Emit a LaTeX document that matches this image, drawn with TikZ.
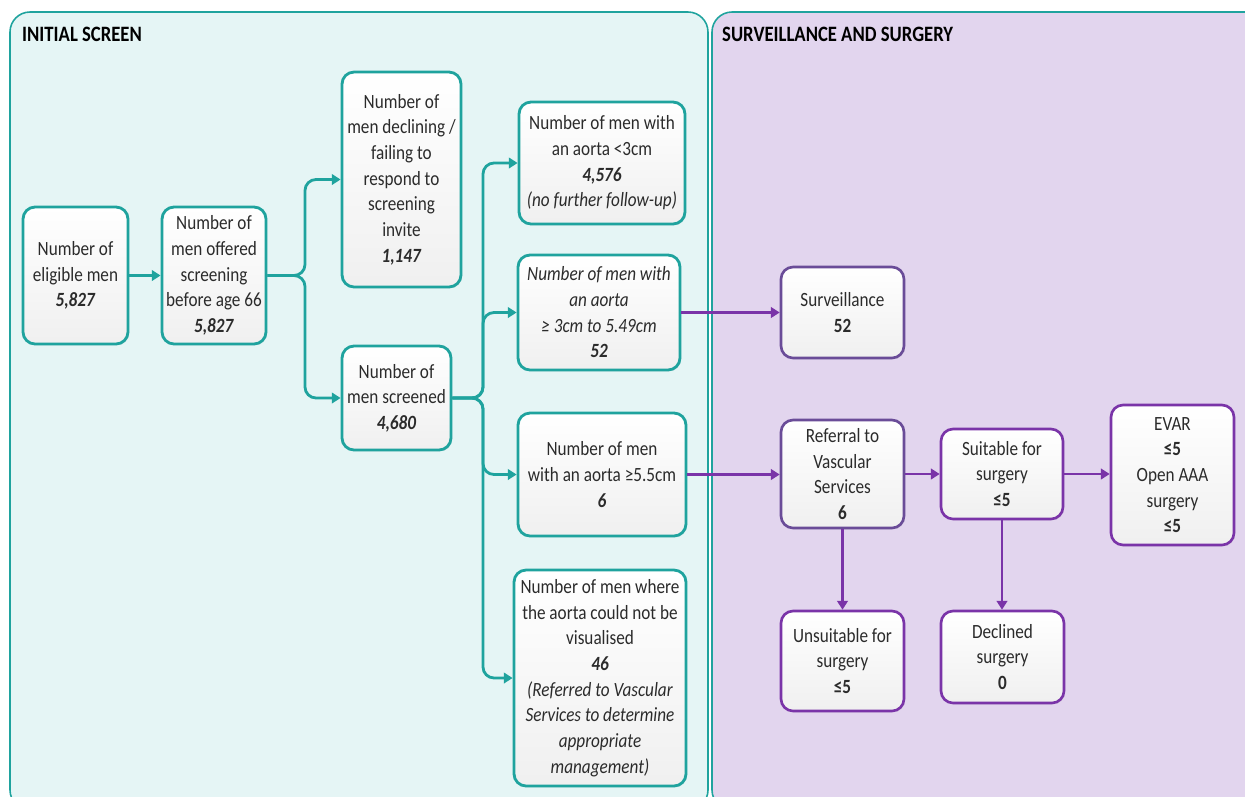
\documentclass[tikz,border=0pt]{standalone}
\usepackage{fontspec}
\setmainfont{Carlito}[FakeStretch=0.85]
\usetikzlibrary{arrows.meta,shadows}
\definecolor{teal1}{HTML}{1FA39E}
\definecolor{tealbg}{HTML}{E5F5F5}
\definecolor{lilac}{HTML}{E2D5EE}
\definecolor{purp}{HTML}{7A34A8}
\definecolor{purpgrey}{HTML}{6A4C98}
\definecolor{txt}{HTML}{2B2B2B}
\newcommand{\bnum}[1]{\textbf{\textit{#1}}}

\begin{document}
\begin{tikzpicture}[x=0.02cm,y=-0.02cm,
  box/.style={draw, rounded corners=0.24cm, align=center, inner sep=2pt,
    top color=white, bottom color=black!6, text=txt,
    font=\fontsize{11.5}{14.6}\selectfont,
    drop shadow={opacity=0.12, shadow xshift=0.6pt, shadow yshift=-0.8pt}},
  tbox/.style={box, draw=teal1, line width=1.6pt},
  pbox/.style={box, draw=purp, line width=1.5pt},
  tlink/.style={draw=teal1, line width=1.6pt, rounded corners=0.22cm,
    -{Triangle[length=5pt,width=6pt]}},
  plink/.style={draw=purp, line width=1.5pt, -{Triangle[length=5pt,width=6pt]}},
  head/.style={anchor=west, font=\fontsize{12.5}{15}\selectfont\bfseries, text=black},
]
\useasboundingbox (0,0) rectangle (1245,796);

% background panels
\begin{scope}
  \clip (0,0) rectangle (1245,796);
  \draw[fill=tealbg, draw=teal1, line width=0.9pt, rounded corners=0.4cm]
    (10,12) rectangle (708,810);
  \draw[fill=lilac, draw=teal1, line width=0.9pt, rounded corners=0.4cm]
    (712,12) rectangle (1270,810);
\end{scope}
\node[head] (h1) at (16,34) {INITIAL SCREEN};
\node[head] (h2) at (716,34) {SURVEILLANCE AND SURGERY};

% initial screen
\node[tbox, minimum width=2.10cm, minimum height=2.74cm] (elig) at (75.5,275.5)
  {Number of\\eligible men\\\bnum{5,827}};
\node[tbox, minimum width=2.08cm, minimum height=2.74cm] (offer) at (214,275.5)
  {Number of\\men offered\\screening\\before age 66\\\bnum{5,827}};
\node[tbox, minimum width=2.38cm, minimum height=4.30cm] (decl) at (401.5,179.5)
  {Number of\\men declining /\\failing to\\respond to\\screening\\invite\\\bnum{1,147}};
\node[tbox, minimum width=2.18cm, minimum height=2.08cm] (scr) at (396.5,398)
  {Number of\\men screened\\\bnum{4,680}};
\node[tbox, minimum width=3.32cm, minimum height=2.44cm] (lt3) at (602,163)
  {Number of men with\\an aorta <3cm\\\bnum{4,576}\\\textit{(no further follow-up)}};
\node[tbox, minimum width=3.24cm, minimum height=2.30cm] (mid) at (599,312.5)
  {\textit{Number of men with}\\\textit{an aorta}\\\textit{≥ 3cm to 5.49cm}\\\bnum{52}};
\node[tbox, minimum width=3.36cm, minimum height=2.46cm] (ge55) at (602,474.5)
  {Number of men\\with an aorta ≥5.5cm\\\bnum{6}};
\node[tbox, minimum width=3.44cm, minimum height=4.32cm] (nvis) at (600,678)
  {Number of men where\\the aorta could not be\\visualised\\\bnum{46}\\
   \textit{(Referred to Vascular}\\\textit{Services to determine}\\
   \textit{appropriate}\\\textit{management)}};

% surveillance and surgery
\node[pbox, draw=purpgrey, minimum width=2.46cm, minimum height=1.82cm] (surv) at (842.5,312.5)
  {Surveillance\\\textbf{52}};
\node[pbox, draw=purpgrey, minimum width=2.46cm, minimum height=2.16cm] (ref) at (842.5,474)
  {Referral to\\Vascular\\Services\\\textbf{6}};
\node[pbox, minimum width=2.44cm, minimum height=1.80cm] (suit) at (1002,474)
  {Suitable for\\surgery\\\textbf{≤5}};
\node[pbox, minimum width=2.46cm, minimum height=2.80cm] (evar) at (1172.5,475)
  {EVAR\\\textbf{≤5}\\Open AAA\\surgery\\\textbf{≤5}};
\node[pbox, minimum width=2.46cm, minimum height=2.00cm] (unsuit) at (842.5,661)
  {Unsuitable for\\surgery\\\textbf{≤5}};
\node[pbox, minimum width=2.46cm, minimum height=1.84cm] (decl2) at (1002.5,657)
  {Declined\\surgery\\\textbf{0}};

% teal connectors
\coordinate (j1) at (305,275.5);
\coordinate (j2) at (483,398);
\draw[tlink] (elig) -- (offer);
\draw[tlink] (offer.east) -- (j1) |- (decl.west);
\draw[tlink] (offer.east) -- (j1) |- (scr.west);
\draw[tlink] (scr.east) -- (j2) |- (lt3.west);
\draw[tlink] (scr.east) -- (j2) |- (mid.west);
\draw[tlink] (scr.east) -- (j2) |- (ge55.west);
\draw[tlink] (scr.east) -- (j2) |- (nvis.west);

% purple connectors
\draw[plink] (mid.east) -- (mid.east -| surv.west);
\draw[plink] (ge55.east) -- (ge55.east -| ref.west);
\draw[plink] (ref) -- (suit);
\draw[plink] (suit.east) -- (suit.east -| evar.west);
\draw[plink] (ref) -- (unsuit);
\draw[plink] (suit.south) -- (suit.south |- decl2.north);
\end{tikzpicture}
\end{document}
